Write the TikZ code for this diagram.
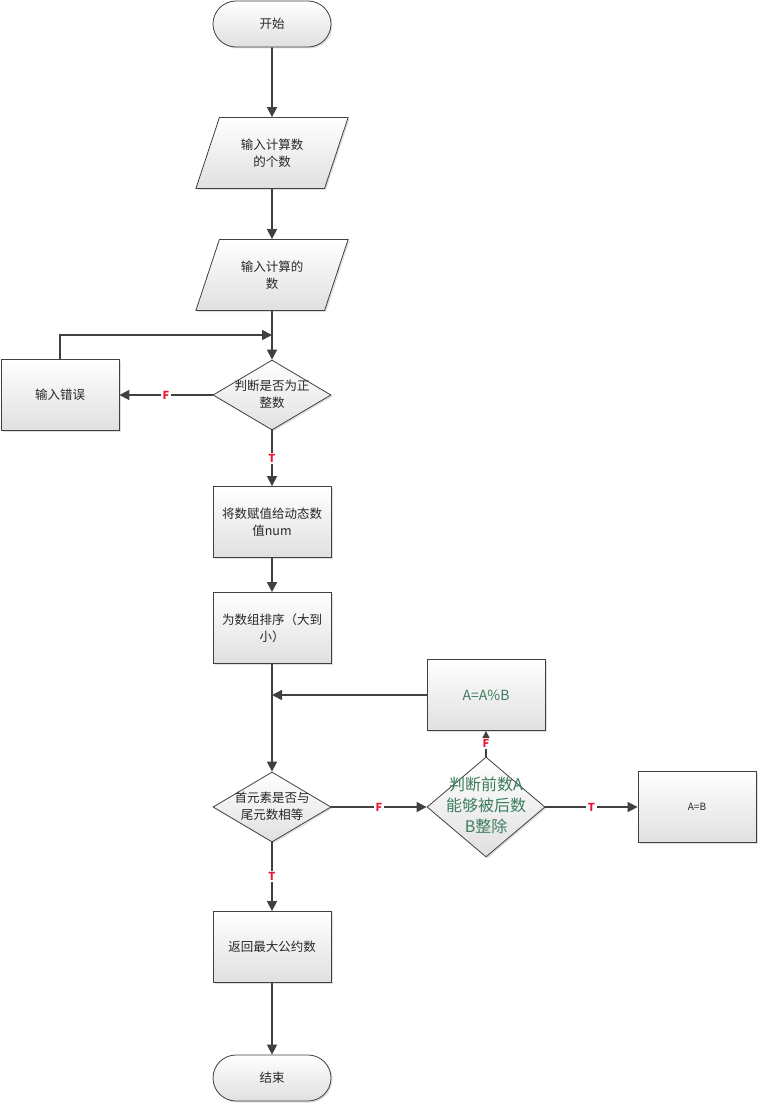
\documentclass[tikz,border=0pt]{standalone}
\usepackage{fontspec}
\setmainfont{Noto Sans CJK SC}
\usepackage{tikz}
\usepackage{xcolor}
\usetikzlibrary{arrows.meta, shapes.geometric, shapes.misc, shadows}
\definecolor{flowline}{RGB}{64, 64, 64}
\definecolor{flowtext}{RGB}{40, 40, 40}
\definecolor{flowfill}{RGB}{224, 224, 224}
\definecolor{flowgreen}{RGB}{60, 125, 95}
\definecolor{flowred}{RGB}{235, 20, 50}
\newcommand{\flatlines}[1]{\makebox[0pt]{\smash{\raisebox{-0.3em}{\begin{tabular}{@{}c@{}}#1\end{tabular}}}}}
\tikzset{
    flowbase/.style={draw=flowline, line width=0.8pt, top color=white, bottom color=flowfill, text=flowtext, font=\fontsize{12.5}{17}\selectfont, align=center, inner sep=0pt, drop shadow={shadow xshift=1.5pt, shadow yshift=-1.5pt, opacity=0.25}},
    termnode/.style={flowbase, rounded rectangle, minimum width=118pt, minimum height=46pt},
    ionode/.style={flowbase, trapezium, trapezium left angle=64, trapezium right angle=116, trapezium stretches=true, minimum width=153pt, minimum height=71pt},
    procnode/.style={flowbase, rectangle, minimum width=118pt, minimum height=71pt},
    decnode/.style={flowbase, diamond, minimum width=118pt, minimum height=70pt},
    flowarrow/.style={draw=flowline, line width=1.6pt, -{Triangle[length=10pt, width=10pt]}},
    tflabel/.style={fill=white, text=flowred, font=\bfseries\fontsize{11}{11}\selectfont, inner sep=1.5pt}
}
\begin{document}
\begin{tikzpicture}[x=1pt, y=-1pt]
    \useasboundingbox (0,0) rectangle (760,1105);
    \node[termnode] (start) at (272,24) {开始};
    \node[ionode] (count) at (272,153) {输入计算数\\的个数};
    \node[ionode] (nums) at (272,275) {输入计算的\\数};
    \node[decnode] (ispos) at (272,395) {\flatlines{判断是否为正\\整数}};
    \node[procnode] (err) at (60,395) {输入错误};
    \node[procnode] (assign) at (272,522) {将数赋值给动态数\\值num};
    \node[procnode] (sort) at (272,628) {为数组排序（大到\\小）};
    \node[decnode] (equal) at (272,807) {\flatlines{首元素是否与\\尾元数相等}};
    \node[decnode, minimum height=100pt, text=flowgreen, font=\fontsize{16}{21}\selectfont] (divide) at (486,807) {\flatlines{判断前数A\\能够被后数\\B整除}};
    \node[procnode, text=flowgreen, font=\fontsize{14}{17}\selectfont] (mod) at (486,695) {A=A\%B};
    \node[procnode, font=\fontsize{10}{12}\selectfont] (assignb) at (697,807) {A=B};
    \node[procnode] (ret) at (272,947) {返回最大公约数};
    \node[termnode] (stop) at (272,1078) {结束};
    \coordinate (back) at (272,335);
    \coordinate (join) at (272,695);

    \draw[flowarrow] (start) -- (count);
    \draw[flowarrow] (count) -- (nums);
    \draw[flowarrow] (nums) -- (ispos);
    \draw[flowarrow] (ispos) -- node[tflabel] {F} (err);
    \draw[flowarrow] (err.north) |- (back);
    \draw[flowarrow] (ispos) -- node[tflabel] {T} (assign);
    \draw[flowarrow] (assign) -- (sort);
    \draw[flowarrow] (sort) -- (equal);
    \draw[flowarrow] (mod) -- (join);
    \draw[flowarrow] (equal) -- node[tflabel] {F} (divide);
    \draw[flowarrow] (divide) -- node[tflabel] {T} (assignb);
    \draw[flowarrow] (divide) -- node[tflabel] {F} (mod);
    \draw[flowarrow] (equal) -- node[tflabel] {T} (ret);
    \draw[flowarrow] (ret) -- (stop);
\end{tikzpicture}
\end{document}
